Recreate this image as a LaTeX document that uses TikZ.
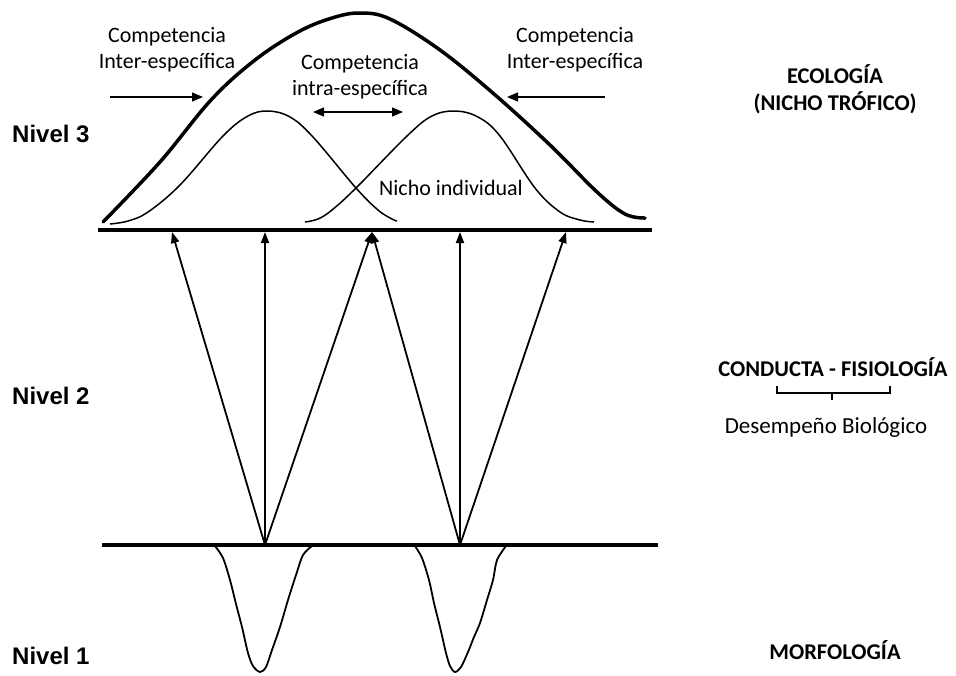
\documentclass[tikz,border=0pt]{standalone}
\usepackage{fontspec}
\setmainfont{Carlito}
\newfontfamily\arialf{Liberation Sans}
\usetikzlibrary{arrows.meta}
\begin{document}
\begin{tikzpicture}[x=1pt,y=-1pt,
  lbl/.style={font=\fontsize{22}{26}\selectfont, align=center, inner sep=0pt},
  rlbl/.style={font=\bfseries\fontsize{22.5}{27}\selectfont, align=center, inner sep=0pt},
  nivel/.style={font=\arialf\bfseries\fontsize{24}{28}\selectfont, anchor=west, inner sep=0pt},
  arr/.style={-{Triangle[length=11pt,width=8pt]}, line width=1.8pt},
  harr/.style={-{Triangle[length=11pt,width=9pt]}, line width=1.4pt},
  darr/.style={{Triangle[length=11pt,width=9pt]}-{Triangle[length=11pt,width=9pt]}, line width=1.4pt},
  base/.style={line width=4pt},
  bigc/.style={line width=3.5pt, line cap=round},
  smallc/.style={line width=1.5pt},
  vcurve/.style={line width=1.8pt}]
\useasboundingbox (0,0) rectangle (956,675);

% base lines
\coordinate (tl) at (98,230);
\coordinate (tr) at (652,230);
\coordinate (bl) at (102,545);
\coordinate (br) at (658,545);
\draw[base] (tl) -- (tr);
\draw[base, line width=3.5pt] (bl) -- (br);

% big niche curve
\draw[bigc] plot[smooth, tension=0.6] coordinates {(103,222) (160,162) (211,100) (255,60) (298,32) (332,18) (360,13) (390,19) (440,50) (494,94) (550,145) (597,192) (625,214) (645,218)};

% individual niches
\draw[smallc] plot[smooth, tension=0.6] coordinates {(110,224) (128,221) (148,212) (180,185) (223,136) (248,116) (268,111) (290,117) (313,137) (356,188) (378,210) (392,219) (397,221)};
\draw[smallc] plot[smooth, tension=0.6] coordinates {(305,222) (318,219) (332,210) (356,188) (407,136) (432,116) (455,111) (478,117) (500,136) (535,188) (560,212) (580,220) (594,222)};

% arrows level 2
\coordinate (s1) at (265,545);
\coordinate (s2) at (460,545);
\coordinate (t1) at (172,232);
\coordinate (t2) at (265,232);
\coordinate (t3) at (372,232);
\coordinate (t4) at (460,232);
\coordinate (t5) at (566,232);
\draw[arr] (s1) -- (t1);
\draw[arr] (s1) -- (t2);
\draw[arr] (s1) -- (t3);
\draw[arr] (s2) -- (t3);
\draw[arr] (s2) -- (t4);
\draw[arr] (s2) -- (t5);

% competition arrows
\coordinate (la) at (110,97);
\coordinate (lb) at (203,97);
\coordinate (ra) at (605,97);
\coordinate (rb) at (507,97);
\coordinate (ma) at (313,112);
\coordinate (mb) at (403,112);
\draw[harr] (la) -- (lb);
\draw[harr] (ra) -- (rb);
\draw[darr] (ma) -- (mb);

% morphology curves
\draw[vcurve] plot[smooth, tension=0.5] coordinates {(215,546) (223,558) (230,580) (236,604) (242,627) (248,653) (253,666) (260,672) (266,667) (272,650) (280,627) (288,600) (296,575) (303,555) (312,546)};
\draw[vcurve] plot[smooth, tension=0.5] coordinates {(415,546) (422,558) (429,580) (434,603) (440,627) (446,653) (450,666) (455,672) (461,667) (468,652) (474,637) (480,623) (487,600) (493,580) (497,560) (506,546)};

% labels
\node[lbl] (cl) at (167,50) {Competencia\\Inter-específica};
\node[lbl] (cr) at (575,50) {Competencia\\Inter-específica};
\node[lbl] (cm) at (360,77) {Competencia\\intra-específica};
\node[lbl, anchor=west] (ni) at (379,188) {Nicho individual};

\node[nivel] (n3) at (12,134) {Nivel 3};
\node[nivel] (n2) at (12,396) {Nivel 2};
\node[nivel] (n1) at (12,656) {Nivel 1};

\node[rlbl] (eco) at (835,89) {ECOLOGÍA\\(NICHO TRÓFICO)};
\node[rlbl] (cf) at (833,367) {CONDUCTA - FISIOLOGÍA};
\node[lbl, font=\fontsize{23}{27}\selectfont] (db) at (826,427) {Desempeño Biológico};
\node[rlbl] (mo) at (835,650) {MORFOLOGÍA};

% brace under conducta
\coordinate (k1) at (777,386);
\coordinate (k2) at (777,393);
\coordinate (k3) at (890,393);
\coordinate (k4) at (890,386);
\coordinate (k5) at (832,393);
\coordinate (k6) at (832,400);
\draw[line width=1.2pt] (k1) -- (k2) -- (k3) -- (k4);
\draw[line width=1.2pt] (k5) -- (k6);
\end{tikzpicture}
\end{document}
